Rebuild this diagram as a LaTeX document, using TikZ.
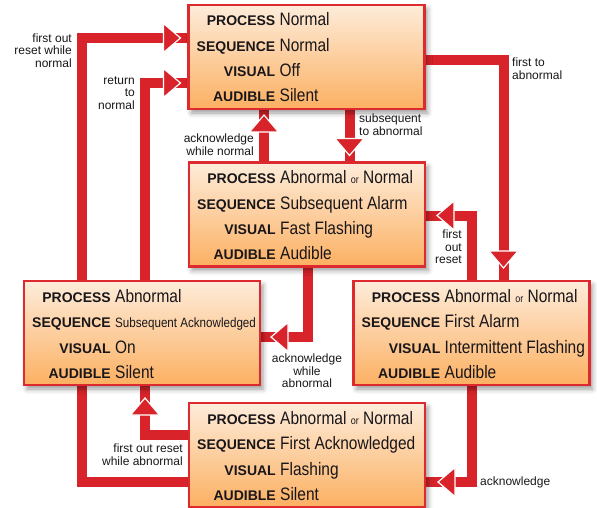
\documentclass[tikz,border=0pt]{standalone}
\usepackage{fontspec}
\setmainfont{Liberation Sans}
\newfontfamily\valfamily{Liberation Sans}[FakeStretch=0.86]
\usetikzlibrary{calc,decorations.markings,shadows.blur}
\definecolor{connred}{RGB}{216,35,42}
\definecolor{boxedge}{RGB}{221,42,46}
\definecolor{boxtop}{RGB}{253,236,218}
\definecolor{boxbot}{RGB}{252,176,98}
\definecolor{txt}{RGB}{25,22,25}
\pgfdeclarelayer{bg}
\pgfsetlayers{bg,main}
\tikzset{
  statebox/.style={draw=boxedge, line width=2.6pt, minimum width=236pt, minimum height=104pt,
    inner sep=0pt, outer sep=0pt, top color=boxtop, bottom color=boxbot,
    blur shadow={shadow xshift=3pt, shadow yshift=-4pt, shadow blur radius=5pt, shadow opacity=40}},
  keylab/.style={anchor=base east, inner sep=0pt, font=\fontsize{14}{14}\selectfont\bfseries, text=txt},
  vallab/.style={anchor=base west, inner sep=0pt, font=\valfamily\fontsize{18}{18}\selectfont, text=txt},
  note/.style={inner sep=0pt, font=\fontsize{12}{12.4}\selectfont, text=txt},
  wire/.style={draw=connred, line width=10pt, line join=miter},
  headat/.style={postaction={decorate,decoration={markings,mark=at position -#1 with
    {\fill[connred,draw=white,line width=1.2pt] (0pt,0pt) -- (-17pt,-14.5pt) -- (-17pt,14.5pt) -- cycle;}}}}
}
\newcommand\StateBox[6]{%
  \node[statebox] (#1) at (#2) {};
  \node[keylab] (#1-pk) at ([xshift=87pt,yshift=-21pt]#1.north west) {PROCESS};
  \node[keylab] (#1-sk) at ([xshift=87pt,yshift=-46.5pt]#1.north west) {SEQUENCE};
  \node[keylab] (#1-vk) at ([xshift=87pt,yshift=-72pt]#1.north west) {VISUAL};
  \node[keylab] (#1-ak) at ([xshift=87pt,yshift=-97pt]#1.north west) {AUDIBLE};
  \node[vallab] (#1-pv) at ([xshift=91pt,yshift=-21pt]#1.north west) {#3};
  \node[vallab] (#1-sv) at ([xshift=91pt,yshift=-46.5pt]#1.north west) {#4};
  \node[vallab] (#1-vv) at ([xshift=91pt,yshift=-72pt]#1.north west) {#5};
  \node[vallab] (#1-av) at ([xshift=91pt,yshift=-97pt]#1.north west) {#6};
}
\newcommand\smor{{\fontsize{10.5}{10.5}\selectfont or}}
\begin{document}
\begin{tikzpicture}[x=1pt,y=-1pt]
\useasboundingbox (0,0) rectangle (597,508);
\StateBox{normal}{306.5,57}{Normal}{Normal}{Off}{Silent}
\StateBox{subalarm}{307,214.5}{Abnormal \smor{} Normal}{Subsequent Alarm}{Fast Flashing}{Audible}
\StateBox{suback}{142,333}{Abnormal}{{\fontsize{13.5}{13.5}\selectfont Subsequent Acknowledged}}{On}{Silent}
\StateBox{firstalarm}{471.5,333}{Abnormal \smor{} Normal}{First Alarm}{Intermittent Flashing}{Audible}
\StateBox{firstack}{307,455}{Abnormal \smor{} Normal}{First Acknowledged}{Flashing}{Silent}

\begin{pgfonlayer}{bg}
\draw[wire, headat=8pt] ([yshift=25pt]firstack.south west) -| ([xshift=58pt]suback.west) |- ([yshift=-33pt]normal.north west);
\draw[wire, headat=8pt] ([xshift=121pt]suback.north west) |- ([yshift=-78pt]normal.north west);
\draw[wire, headat=6pt] ([xshift=75pt]subalarm.north west) -- ([xshift=75pt]subalarm.north west |- normal.south);
\draw[wire, headat=7pt] ([xshift=161pt]normal.south west) -- ([xshift=161pt]normal.south west |- subalarm.north);
\draw[wire, headat=13pt] ([yshift=-55pt]normal.north east) -| ([xshift=150pt]firstalarm.north west);
\draw[wire, headat=12pt] ([xshift=118pt]firstalarm.north west) |- ([yshift=-53pt]subalarm.north east);
\draw[wire, headat=11pt] ([xshift=119pt]subalarm.south west) |- ([yshift=-56pt]suback.north east);
\draw[wire, headat=13pt] ([yshift=-32pt]firstack.north west) -| ([xshift=121pt]suback.south west);
\draw[wire, headat=13pt] ([xshift=118pt]firstalarm.south west) |- ([yshift=25pt]firstack.south east);
\end{pgfonlayer}

\node[note, align=right, anchor=north east] (l1) at (72,33.5) {first out\\reset while\\normal};
\node[note, align=right, anchor=north east] (l2) at (135,76.5) {return\\to\\normal};
\node[note, align=right, anchor=north east] (l3) at (254,134) {acknowledge\\while normal};
\node[note, align=left, anchor=north west] (l4) at (359,114) {subsequent\\to abnormal};
\node[note, align=left, anchor=north west] (l5) at (512,58) {first to\\abnormal};
\node[note, align=right, anchor=north east] (l6) at (462,230) {first\\out\\reset};
\node[note, align=center, anchor=north] (l7) at (307,354) {acknowledge\\while\\abnormal};
\node[note, align=right, anchor=north east] (l8) at (183,444) {first out reset\\while abnormal};
\node[note, anchor=west] (l9) at (480,482) {acknowledge};
\end{tikzpicture}
\end{document}
